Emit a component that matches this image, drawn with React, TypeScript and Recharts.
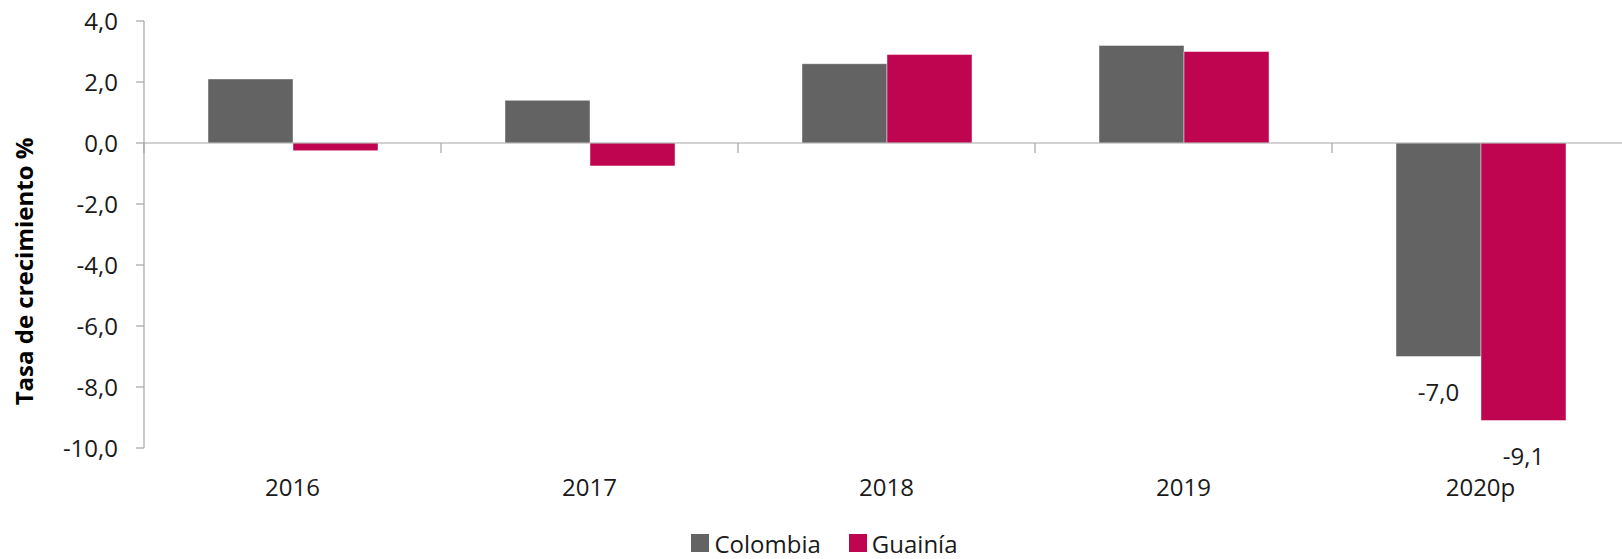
import { Bar, BarChart, LabelList, Legend, ReferenceLine, XAxis, YAxis } from "recharts";

const years = ["2016", "2017", "2018", "2019", "2020p"];
const colombia = [2.1, 1.4, 2.6, 3.2, -7.0];
const guainia = [-0.25, -0.75, 2.9, 3.0, -9.1];
const yTicks = [-10, -8, -6, -4, -2, 0, 2, 4];
const labeledYear = "2020p";

const GRAY = "#636363";
const MAGENTA = "#C00550";
const AXIS = "#A6A6A6";
const FONT = "'Open Sans', 'Noto Sans', sans-serif";

const data = years.map((year, i) => ({
  year,
  colombia: colombia[i],
  guainia: guainia[i],
}));

const fmt = (v: number) => v.toFixed(1).replace(".", ",");

// zero line with category boundary ticks
function ZeroAxis(props: any) {
  const { x1, x2, y1 } = props;
  const n = years.length;
  const step = (x2 - x1) / n;
  return (
    <g>
      <line x1={x1} x2={x2} y1={y1} y2={y1} stroke={AXIS} strokeWidth={1.2} />
      {years.map((_, i) => (
        <line
          key={i}
          x1={x1 + i * step}
          x2={x1 + i * step}
          y1={y1}
          y2={y1 + 10}
          stroke={AXIS}
          strokeWidth={1.2}
        />
      ))}
    </g>
  );
}

function valueLabel(props: any) {
  const { x, y, width, height, value, index } = props;
  if (data[index].year !== labeledYear) return null;
  const bottom = Math.max(y, y + height);
  return (
    <text
      x={x + width / 2}
      y={bottom + 35}
      textAnchor="middle"
      dominantBaseline="central"
      fontSize={24}
      fontFamily={FONT}
      fill="#1a1a1a"
    >
      {fmt(value)}
    </text>
  );
}

function LegendBox() {
  const items = [
    { name: "Colombia", color: GRAY },
    { name: "Guainía", color: MAGENTA },
  ];
  return (
    <div
      style={{
        height: 32,
        display: "flex",
        justifyContent: "center",
        alignItems: "center",
        gap: 28,
        fontFamily: FONT,
        fontSize: 24,
        color: "#1a1a1a",
        paddingLeft: 20,
      }}
    >
      {items.map((it) => (
        <div key={it.name} style={{ display: "flex", alignItems: "center", gap: 5 }}>
          <span style={{ width: 18, height: 18, background: it.color, display: "inline-block" }} />
          <span>{it.name}</span>
        </div>
      ))}
    </div>
  );
}

export default function App() {
  return (
    <div
      style={{
        position: "absolute",
        left: 0,
        top: 0,
        width: 1622,
        height: 559,
        overflow: "hidden",
        background: "#fff",
      }}
    >
      <BarChart
        width={1630}
        height={559}
        data={data}
        margin={{ top: 21, right: 1, bottom: 0, left: 0 }}
        barGap={0}
        barCategoryGap={64}
      >
        <XAxis
          dataKey="year"
          axisLine={false}
          tickLine={false}
          tickSize={0}
          tickMargin={31}
          height={79}
          tick={{ fontSize: 24, fontFamily: FONT, fill: "#1a1a1a" }}
        />
        <YAxis
          width={144}
          domain={[-10, 4]}
          ticks={yTicks}
          tickFormatter={fmt}
          axisLine={{ stroke: AXIS, strokeWidth: 1.2 }}
          tickLine={{ stroke: AXIS, strokeWidth: 1.2 }}
          tickSize={8}
          tickMargin={18}
          tick={{ fontSize: 24, fontFamily: FONT, fill: "#1a1a1a" }}
          label={{
            content: ({ viewBox }: any) => {
              const cx = 23;
              const cy = viewBox.y + viewBox.height / 2 + 37;
              return (
                <text
                  x={cx}
                  y={cy}
                  transform={`rotate(-90 ${cx} ${cy})`}
                  textAnchor="middle"
                  dominantBaseline="central"
                  fontSize={24}
                  fontWeight="bold"
                  fontFamily={FONT}
                  fill="#000"
                >
                  Tasa de crecimiento %
                </text>
              );
            },
          }}
        />
        <Legend verticalAlign="bottom" content={() => <LegendBox />} />
        <Bar
          dataKey="colombia"
          name="Colombia"
          fill={GRAY}
          stroke="#ffffff"
          strokeOpacity={0.45}
          isAnimationActive={false}
        >
          <LabelList dataKey="colombia" content={valueLabel} />
        </Bar>
        <Bar
          dataKey="guainia"
          name="Guainía"
          fill={MAGENTA}
          stroke="#ffffff"
          strokeOpacity={0.45}
          isAnimationActive={false}
        >
          <LabelList dataKey="guainia" content={valueLabel} />
        </Bar>
        <ReferenceLine y={0} shape={ZeroAxis} ifOverflow="visible" />
      </BarChart>
    </div>
  );
}
